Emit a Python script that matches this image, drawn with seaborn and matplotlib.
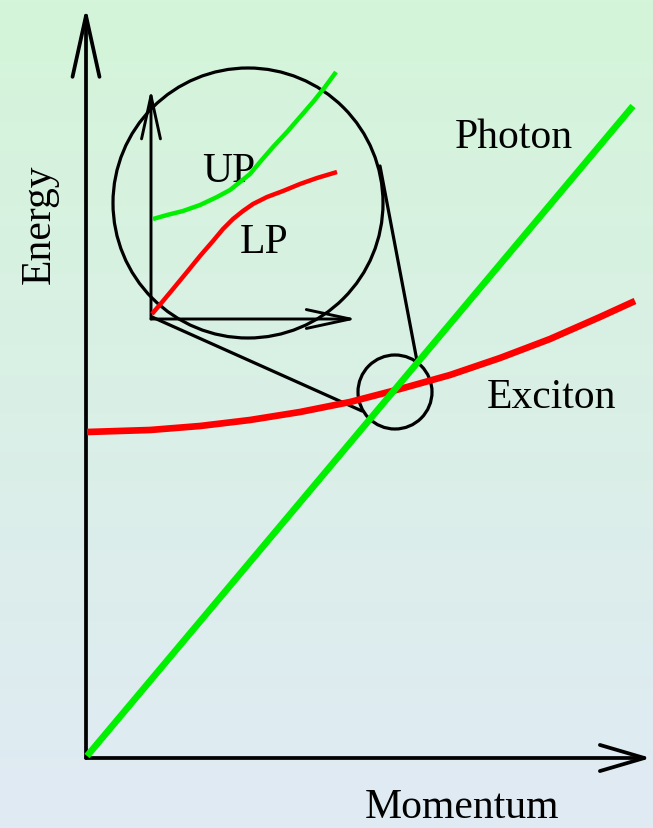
import numpy as np
import pandas as pd
import matplotlib.pyplot as plt
import seaborn as sns
from matplotlib.patches import Circle

# Schematic polariton dispersion (pixel-like units, y grows downward)
photon_k = [87, 360, 633]
photon_E = [757, 432, 107]

exciton_k = [87, 150, 200, 250, 300, 350, 400, 450, 500, 550, 600, 635]
exciton_E = [433, 431, 427, 421, 413, 403, 390, 376, 359, 340, 318, 302]

# zoomed inset: upper and lower polariton branches
up_k = [153, 167, 183, 200, 217, 230, 240, 250, 260, 273, 287, 300, 313, 325, 336]
up_E = [220, 216, 212, 206, 198, 191, 183, 175, 163, 148, 133, 118, 103, 88, 73]
lp_k = [152, 163, 173, 187, 200, 213, 223, 233, 243, 253, 267, 283, 300, 317, 337]
lp_E = [315, 302, 290, 273, 257, 242, 230, 220, 212, 205, 198, 192, 185, 179, 173]

W, H = 653, 829
GREEN = "#00f000"
RED = "#ff0000"

sns.set_theme(style="white")
plt.rcParams["font.family"] = ["Liberation Serif", "DejaVu Serif"]
plt.rcParams["text.color"] = "black"

fig = plt.figure(figsize=(W / 100, H / 100), dpi=100)
ax = fig.add_axes([0, 0, 1, 1])
ax.set_xlim(0, W)
ax.set_ylim(H, 0)
ax.axis("off")

# background gradient, mint at the top to pale blue at the bottom
top = np.array([212, 245, 217]) / 255
bot = np.array([224, 234, 244]) / 255
t = np.linspace(0, 1, 256)[:, None]
grad = (top * (1 - t) + bot * t)[:, None, :]
ax.imshow(grad, extent=(0, W, H, 0), aspect="auto", zorder=0)

def arrow(x0, y0, x1, y1, lw, hl, hw):
    ax.annotate("", xy=(x1, y1), xytext=(x0, y0),
                arrowprops=dict(arrowstyle=f"->,head_length={hl},head_width={hw}",
                                lw=lw, color="black", mutation_scale=1,
                                shrinkA=0, shrinkB=0),
                zorder=2)

# main axes
arrow(86, 759, 86, 8, 2.7, 44, 9.7)
arrow(86, 759, 651, 759, 2.7, 32, 9.4)

# inset axes
arrow(151, 320, 151, 90, 2.1, 31, 6.8)
arrow(151, 320, 357, 320, 2.1, 31.5, 6.8)

# magnifier circles and connecting lines
ax.add_patch(Circle((248, 204), 135, fill=False, lw=2.3, ec="black", zorder=2))
ax.add_patch(Circle((395, 393), 37, fill=False, lw=2.3, ec="black", zorder=2))
ax.plot([380, 417], [167, 362], color="black", lw=2.3, zorder=2)
ax.plot([152, 362], [318, 412], color="black", lw=2.3, zorder=2)

# curves
kw = dict(sort=False, estimator=None, ax=ax, legend=False)
sns.lineplot(x=exciton_k, y=exciton_E, color=RED, lw=4.8, solid_capstyle="butt", zorder=3, **kw)
sns.lineplot(x=photon_k, y=photon_E, color=GREEN, lw=4.8, solid_capstyle="butt", zorder=4, **kw)
sns.lineplot(x=lp_k, y=lp_E, color=RED, lw=3.2, solid_capstyle="butt", zorder=3, **kw)
sns.lineplot(x=up_k, y=up_E, color=GREEN, lw=3.2, solid_capstyle="butt", zorder=3, **kw)

fs = 30
ax.text(455, 148, "Photon", fontsize=fs, color="black", ha="left", va="baseline", zorder=5)
ax.text(487, 408, "Exciton", fontsize=fs, color="black", ha="left", va="baseline", zorder=5)
ax.text(365, 818, "Momentum", fontsize=fs, color="black", ha="left", va="baseline", zorder=5)
ax.text(39, 224, "Energy", fontsize=fs, color="black", rotation=90, ha="center", va="center", zorder=5)
ax.text(202, 182, "UP", fontsize=fs, color="black", ha="left", va="baseline", zorder=2.5)
ax.text(240, 253, "LP", fontsize=fs, color="black", ha="left", va="baseline", zorder=5)

fig.savefig("out.png", dpi=100)
